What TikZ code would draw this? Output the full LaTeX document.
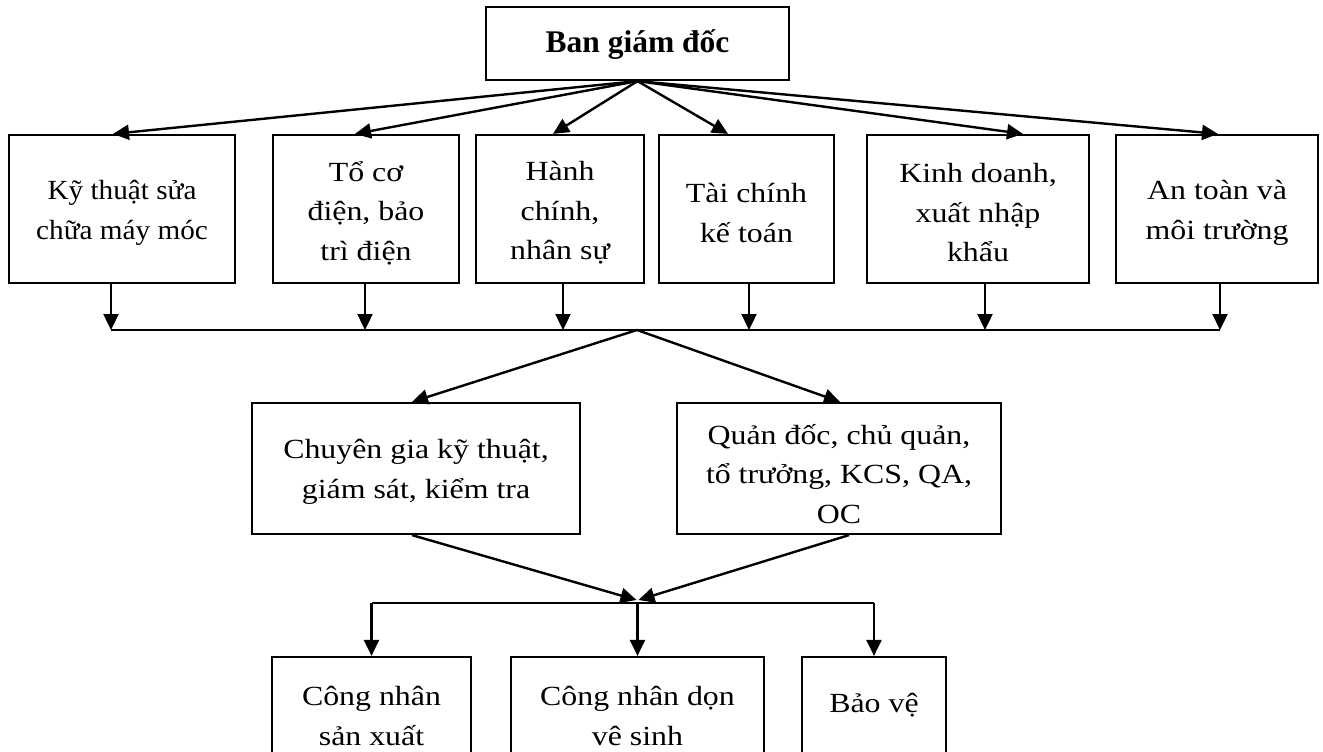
\documentclass[tikz,border=0pt]{standalone}
\usepackage{fontspec}
\setmainfont[FakeStretch=1.15]{Liberation Serif}
\newfontfamily\plainfont{Liberation Serif}
\newfontfamily\narrowfont[FakeStretch=1.055]{Liberation Serif}
\usetikzlibrary{arrows.meta,calc}
\begin{document}
\begin{tikzpicture}[x=1pt,y=-1pt,
  box/.style={draw, line width=2.2pt, inner sep=0pt},
  txt/.style={align=center, inner sep=0pt,
    font=\fontsize{27.7}{39.5}\selectfont},
  conn/.style={line width=2.4pt},
  arr/.style={conn, -{Triangle[length=16pt,width=15pt]}},
]
\clip (0,0) rectangle (1323,752);

% board of directors
\node[box, minimum width=303pt, minimum height=73pt] (top) at (637.5,43.5) {};
\node[txt, font=\plainfont\bfseries\fontsize{31.5}{38}\selectfont] (topt) at ([yshift=-1pt]top.center) {Ban giám đốc};

% departments
\node[box, minimum width=226pt, minimum height=148pt] (k1) at (122,209) {};
\node[box, minimum width=186pt, minimum height=148pt] (k2) at (366,209) {};
\node[box, minimum width=168pt, minimum height=148pt] (k3) at (560,209) {};
\node[box, minimum width=175pt, minimum height=148pt] (k4) at (746.5,209) {};
\node[box, minimum width=222pt, minimum height=148pt] (k5) at (978,209) {};
\node[box, minimum width=202pt, minimum height=148pt] (k6) at (1217,209) {};
\node[txt, font=\narrowfont\fontsize{27.7}{39.5}\selectfont] (k1t) at ([yshift=-4pt]k1.center) {Kỹ thuật sửa\\chữa máy móc};
\node[txt] (k2t) at ([yshift=-4pt]k2.center) {Tổ cơ\\điện, bảo\\trì điện};
\node[txt] (k3t) at ([yshift=-4pt]k3.center) {Hành\\chính,\\nhân sự};
\node[txt] (k4t) at ([yshift=-4pt]k4.center) {Tài chính\\kế toán};
\node[txt] (k5t) at ([yshift=-4pt]k5.center) {Kinh doanh,\\xuất nhập\\khẩu};
\node[txt] (k6t) at ([yshift=-4pt]k6.center) {An toàn và\\môi trường};

% supervisors
\node[box, minimum width=328pt, minimum height=131pt] (cg) at (416,468.5) {};
\node[box, minimum width=324pt, minimum height=131pt] (qd) at (839,468.5) {};
\node[txt] (cgt) at ([yshift=-3.5pt]cg.center) {Chuyên gia kỹ thuật,\\giám sát, kiểm tra};
\node[txt] (qdt) at ([yshift=-5.5pt]qd.center) {Quản đốc, chủ quản,\\tổ trưởng, KCS, QA,\\OC};

% workers (boxes run past the lower edge)
\node[box, minimum width=199pt, minimum height=118pt] (b1) at (371.5,716) {};
\node[box, minimum width=253pt, minimum height=118pt] (b2) at (637.5,716) {};
\node[box, minimum width=144pt, minimum height=118pt] (b3) at (874,716) {};
\node[txt] (b1t) at (b1.center) {Công nhân\\sản xuất};
\node[txt] (b2t) at (b2.center) {Công nhân dọn\\vê sinh};
\node[txt, anchor=base] (b3t) at (874,712) {Bảo vệ};

% board to departments
\draw[arr] (top.south) -- ([xshift=-9pt]k1.north);
\draw[arr] (top.south) -- ([xshift=-11pt]k2.north);
\draw[arr] (top.south) -- ([xshift=-7pt]k3.north);
\draw[arr] (top.south) -- ([xshift=-18.5pt]k4.north);
\draw[arr] (top.south) -- ([xshift=45pt]k5.north);
\draw[arr] (top.south) -- ([xshift=1pt]k6.north);

% departments down to the collecting line
\coordinate (bus) at (637,330);
\coordinate (d1) at ([xshift=-11pt]k1.south);
\coordinate (d2) at ([xshift=-1pt]k2.south);
\coordinate (d3) at ([xshift=3pt]k3.south);
\coordinate (d4) at ([xshift=2.5pt]k4.south);
\coordinate (d5) at ([xshift=7pt]k5.south);
\coordinate (d6) at ([xshift=3pt]k6.south);
\draw[conn] (d1 |- bus) -- (d6 |- bus);
\foreach \d in {d1,d2,d3,d4,d5,d6} \draw[arr] (\d) -- (\d |- bus);

% collecting line to supervisors
\draw[arr] (bus) -- ([xshift=-4pt]cg.north);
\draw[arr] (bus) -- ([xshift=1pt]qd.north);

% supervisors to workers
\coordinate (convL) at (636.5,600);
\coordinate (convR) at (638.5,600);
\coordinate (lbus) at (637.5,603);
\draw[arr] ([xshift=-4pt]cg.south) -- (convL);
\draw[arr] ([xshift=10pt]qd.south) -- (convR);
\draw[conn] (b1.north |- lbus) -- (b3.north |- lbus);
\draw[arr] (b1.north |- lbus) -- (b1.north);
\draw[arr] (lbus) -- (b2.north);
\draw[arr] (b3.north |- lbus) -- (b3.north);
\end{tikzpicture}
\end{document}
